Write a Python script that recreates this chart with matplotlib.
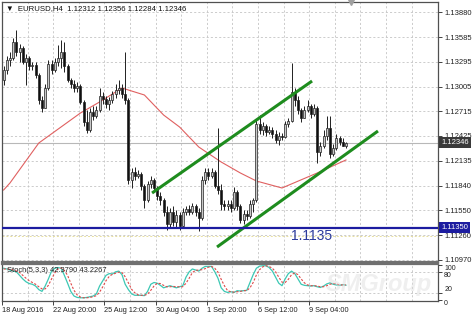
import matplotlib
matplotlib.use('Agg')
import matplotlib.pyplot as plt
from matplotlib.patches import Rectangle
from matplotlib.transforms import blended_transform_factory

plt.rcParams['font.family'] = ['Liberation Sans', 'DejaVu Sans']

# ---------------- data ----------------
first_open = 1.13082
closes = [1.13199, 1.13317, 1.13340, 1.13528, 1.13411, 1.13458, 1.13293, 1.13340, 1.13246, 1.13258,
          1.13141, 1.12847, 1.12753, 1.12988, 1.13270, 1.13199, 1.13293, 1.13340, 1.13411, 1.13246,
          1.13082, 1.13035, 1.12988, 1.13011, 1.12824, 1.12589, 1.12495, 1.12706, 1.12659, 1.12730,
          1.12894, 1.12859, 1.12800, 1.12847, 1.12917, 1.12964, 1.12988, 1.12917, 1.12847, 1.11908,
          1.12002, 1.11955, 1.11978, 1.11837, 1.11673, 1.11861, 1.11908, 1.11814, 1.11720, 1.11673,
          1.11532, 1.11391, 1.11532, 1.11415, 1.11497, 1.11368, 1.11532, 1.11567, 1.11532, 1.11603,
          1.11532, 1.11462, 1.11908, 1.12002, 1.11955, 1.12002, 1.11837, 1.11790, 1.11626, 1.11603,
          1.11626, 1.11579, 1.11767, 1.11603, 1.11438, 1.11509, 1.11485, 1.11626, 1.11673, 1.12565,
          1.12495, 1.12542, 1.12471, 1.12495, 1.12448, 1.12377, 1.12424, 1.12413, 1.12565, 1.12601,
          1.12941, 1.12847, 1.12730, 1.12636, 1.12730, 1.12777, 1.12683, 1.12753, 1.12237, 1.12307,
          1.12424, 1.12518, 1.12213, 1.12284, 1.12401, 1.12354, 1.12312, 1.12346]
highs = [1.13246, 1.13364, 1.13411, 1.13575, 1.13669, 1.13504, 1.13481, 1.13387, 1.13364, 1.13293,
         1.13293, 1.13164, 1.12894, 1.13035, 1.13317, 1.13317, 1.13340, 1.13493, 1.13551, 1.13528,
         1.13270, 1.13105, 1.13082, 1.13058, 1.13035, 1.12847, 1.12730, 1.12753, 1.12777, 1.12777,
         1.12988, 1.12941, 1.12894, 1.12882, 1.12953, 1.13035, 1.13082, 1.13035, 1.13411, 1.12870,
         1.12049, 1.12060, 1.12025, 1.12002, 1.11861, 1.11896, 1.11955, 1.11931, 1.11837, 1.11767,
         1.11697, 1.11603, 1.11579, 1.11603, 1.11556, 1.11532, 1.11579, 1.11603, 1.11614, 1.11638,
         1.11626, 1.11579, 1.11955, 1.12049, 1.12049, 1.12049, 1.12025, 1.12518, 1.11861, 1.11673,
         1.11673, 1.11673, 1.11826, 1.11790, 1.11626, 1.11556, 1.11556, 1.11673, 1.11697, 1.12612,
         1.12671, 1.12589, 1.12565, 1.12542, 1.12530, 1.12495, 1.12471, 1.12460, 1.12601, 1.12636,
         1.13281, 1.12988, 1.12894, 1.12753, 1.12777, 1.12847, 1.12800, 1.12800, 1.12777, 1.12354,
         1.12495, 1.12659, 1.12659, 1.12330, 1.12448, 1.12424, 1.12401, 1.12356]
lows = [1.13023, 1.13152, 1.13246, 1.13317, 1.13364, 1.13293, 1.13270, 1.13023, 1.13199, 1.13199,
        1.13105, 1.12800, 1.12706, 1.12753, 1.12964, 1.13152, 1.13176, 1.13246, 1.13223, 1.13176,
        1.13058, 1.12988, 1.12941, 1.12941, 1.12800, 1.12542, 1.12460, 1.12471, 1.12612, 1.12636,
        1.12706, 1.12800, 1.12753, 1.12730, 1.12812, 1.12870, 1.12917, 1.12870, 1.12800, 1.11861,
        1.11814, 1.11908, 1.11931, 1.11790, 1.11579, 1.11650, 1.11814, 1.11767, 1.11673, 1.11614,
        1.11485, 1.11321, 1.11344, 1.11368, 1.11356, 1.11321, 1.11344, 1.11497, 1.11497, 1.11509,
        1.11485, 1.11309, 1.11438, 1.11861, 1.11908, 1.11931, 1.11814, 1.11743, 1.11556, 1.11556,
        1.11556, 1.11532, 1.11556, 1.11556, 1.11403, 1.11391, 1.11438, 1.11462, 1.11532, 1.11650,
        1.12448, 1.12436, 1.12424, 1.12448, 1.12401, 1.12342, 1.12319, 1.12377, 1.12401, 1.12530,
        1.12589, 1.12777, 1.12683, 1.12589, 1.12636, 1.12706, 1.12636, 1.12659, 1.12107, 1.12190,
        1.12284, 1.12377, 1.12166, 1.12190, 1.12260, 1.12319, 1.12307, 1.12284]

ma_bars = [0, 2, 11, 24, 30, 37, 44, 50, 55, 61, 68, 74, 79, 87, 98, 107]
ma_values = [1.11790, 1.11873, 1.12342, 1.12694, 1.12824, 1.12988, 1.12906, 1.12671, 1.12530,
             1.12295, 1.12119, 1.11990, 1.11896, 1.11814, 1.11990, 1.12143]

stoch_k = [90, 88, 85, 82, 80, 70, 60, 52, 47, 45,
           40, 30, 25, 40, 60, 82, 90, 92, 90, 70,
           48, 25, 12, 8, 7, 7, 8, 10, 12, 18,
           40, 55, 70, 75, 74, 80, 82, 72, 45, 30,
           18, 14, 14, 14, 13, 25, 45, 50, 48, 42,
           35, 38, 41, 38, 35, 38, 41, 65, 80, 88,
           85, 82, 90, 95, 95, 95, 80, 62, 35, 25,
           22, 24, 22, 27, 26, 27, 28, 50, 72, 90,
           96, 97, 97, 92, 82, 65, 48, 41, 60, 75,
           82, 75, 60, 45, 42, 41, 40, 41, 38, 36,
           40, 46, 49, 45, 43, 42, 44, 42.379]
stoch_d = [88, 88, 87, 85, 82, 78, 70, 62, 55, 50,
           45, 38, 32, 32, 42, 60, 77, 88, 91, 84,
           70, 48, 28, 15, 9, 7, 7, 8, 10, 13,
           23, 38, 55, 67, 73, 76, 79, 78, 66, 49,
           31, 21, 15, 14, 14, 17, 28, 40, 48, 47,
           42, 38, 38, 39, 38, 38, 38, 48, 62, 78,
           84, 85, 86, 89, 93, 95, 90, 79, 59, 41,
           27, 24, 23, 24, 25, 27, 27, 35, 50, 71,
           86, 94, 97, 95, 90, 80, 65, 51, 50, 59,
           72, 77, 72, 60, 49, 43, 41, 41, 40, 38,
           38, 41, 45, 47, 46, 43, 43, 43.2267]

price_ticks = [1.13880, 1.13585, 1.13295, 1.13005, 1.12715, 1.12425, 1.12135,
               1.11840, 1.11550, 1.11260, 1.10970]
time_labels = ['18 Aug 2016', '22 Aug 20:00', '25 Aug 12:00', '30 Aug 04:00',
               '1 Sep 20:00', '6 Sep 12:00', '9 Sep 04:00']
bars_per_label = 16

upper_channel_x = [46.4, 96.4]
upper_channel_y = [1.11755, 1.13070]
lower_channel_x = [66.7, 117.0]
lower_channel_y = [1.11121, 1.12483]

support_level = 1.1135
support_text = '1.1135'
last_price = 1.12346
header = '\u25bc  EURUSD,H4  1.12312 1.12356 1.12284 1.12346'
stoch_header = 'Stoch(5,3,3) 42.3790 43.2267'

# ---------------- figure ----------------
fig = plt.figure(figsize=(4.74, 3.16), dpi=100)
fig.patch.set_facecolor('white')
ax = fig.add_axes([0.0042, 0.1709, 0.9198, 0.8228])
ax2 = fig.add_axes([0.0042, 0.0475, 0.9198, 0.1171], sharex=ax)

n = len(closes)
opens = [first_open] + closes[:-1]
xmin, xmax = -0.5, 135.75

grid_kw = dict(color='#c4c4c4', lw=0.6, ls=(0, (2.5, 2.5)), zorder=0)
for k in range(1, 17):
    xv = -0.5 + 8 * k
    ax.axvline(xv, **grid_kw)
    ax2.axvline(xv, **grid_kw)
for p in price_ticks:
    ax.axhline(p, **grid_kw)
ax.axhline(1.1125, color='#e8e0a0', lw=0.7, ls=(0, (2, 2)), zorder=0)

# current price line
ax.axhline(last_price, color='#b8b8b8', lw=0.8, zorder=1)

# moving average
ax.plot(ma_bars, ma_values, color='#e06060', lw=0.8, zorder=2)

# candles
bw = 0.62
for i in range(n):
    o, c = opens[i], closes[i]
    h = max(highs[i], o, c)
    l = min(lows[i], o, c)
    ax.plot([i, i], [l, h], color='#202020', lw=0.7, zorder=3, solid_capstyle='butt')
    bottom = min(o, c)
    height = max(abs(c - o), 0.00003)
    fc = '#c8c8c8' if c >= o else '#101010'
    ax.add_patch(Rectangle((i - bw / 2, bottom), bw, height, facecolor=fc,
                           edgecolor='#202020', lw=0.5, zorder=4))

# channel
ax.plot(upper_channel_x, upper_channel_y, color='#1e8c1e', lw=2.2, zorder=5, solid_capstyle='butt')
ax.plot(lower_channel_x, lower_channel_y, color='#1e8c1e', lw=2.2, zorder=5, solid_capstyle='butt')

# support
ax.axhline(support_level, color='#1c1ca0', lw=1.6, zorder=5)
ax.text(96.4, 1.11250, support_text, color='#2b3a9c', fontsize=10, ha='center', va='center', zorder=6)

ax.set_xlim(xmin, xmax)
ax.set_ylim(1.10945, 1.13998)

ax.yaxis.tick_right()
ax.set_yticks(price_ticks)
ax.set_yticklabels(['%.5f' % p for p in price_ticks])
ax.tick_params(axis='y', labelsize=5.5, length=3, width=0.6, pad=1.5, colors='#222222')
ax.tick_params(axis='x', bottom=False, labelbottom=False)

tr = blended_transform_factory(ax.transAxes, ax.transData)
ax.text(1.007, last_price, '1.12346', transform=tr, fontsize=5.5, color='white', ha='left',
        va='center', zorder=10, clip_on=False,
        bbox=dict(boxstyle='square,pad=0.3', fc='#3a3a3a', ec='none'))
ax.text(1.007, support_level, '1.11350', transform=tr, fontsize=5.5, color='white', ha='left',
        va='center', zorder=10, clip_on=False,
        bbox=dict(boxstyle='square,pad=0.3', fc='#1c1ca0', ec='none'))

ax.text(0.009, 0.988, header, transform=ax.transAxes, fontsize=5.6, color='#111111',
        ha='left', va='top', zorder=10)
ax.plot([0.8], [1.0], marker='v', color='#a0a0a0', markersize=4, transform=ax.transAxes,
        clip_on=False, zorder=10)

for s in ax.spines.values():
    s.set_color('#505050')
    s.set_linewidth(0.9)
ax.spines['bottom'].set_linewidth(1.6)
ax.spines['bottom'].set_color('#707070')

# ---------------- stochastic ----------------
xs = list(range(n))
ax2.plot(xs, stoch_k, color='#3cc8b4', lw=0.9, zorder=3)
ax2.plot(xs, stoch_d, color='#e04848', lw=0.8, ls=(0, (2, 1.5)), zorder=3)
ax2.axhline(80, **grid_kw)
ax2.axhline(20, **grid_kw)
ax2.set_ylim(-2, 102)
ax2.yaxis.tick_right()
ax2.set_yticks([0, 20, 80, 100])
ax2.set_yticklabels(['0', '20', '80', '100'])
ax2.tick_params(axis='y', labelsize=5, length=3, width=0.6, pad=1.5, colors='#222222')
for lab, va in zip(ax2.get_yticklabels(), ['top', 'bottom', 'top', 'top']):
    lab.set_va(va)

tick_pos = [-0.5 + bars_per_label * k for k in range(len(time_labels))]
ax2.set_xticks(tick_pos)
ax2.set_xticklabels(time_labels, ha='left')
ax2.tick_params(axis='x', labelsize=5.3, length=3, width=0.6, pad=1.5, colors='#222222')
ax2.set_xlim(xmin, xmax)
ax2.text(0.012, 0.93, stoch_header, transform=ax2.transAxes, fontsize=5.4, color='#222222',
         ha='left', va='top', zorder=10)
for s in ax2.spines.values():
    s.set_color('#505050')
    s.set_linewidth(0.9)
ax2.spines['top'].set_linewidth(1.6)
ax2.spines['top'].set_color('#707070')

fig.text(0.80, 0.10, 'SMGroup', fontsize=17, style='italic', fontweight='bold',
         color='#dcdcdc', alpha=0.45, ha='center', va='center', zorder=20)

fig.savefig('out.png', dpi=100)
